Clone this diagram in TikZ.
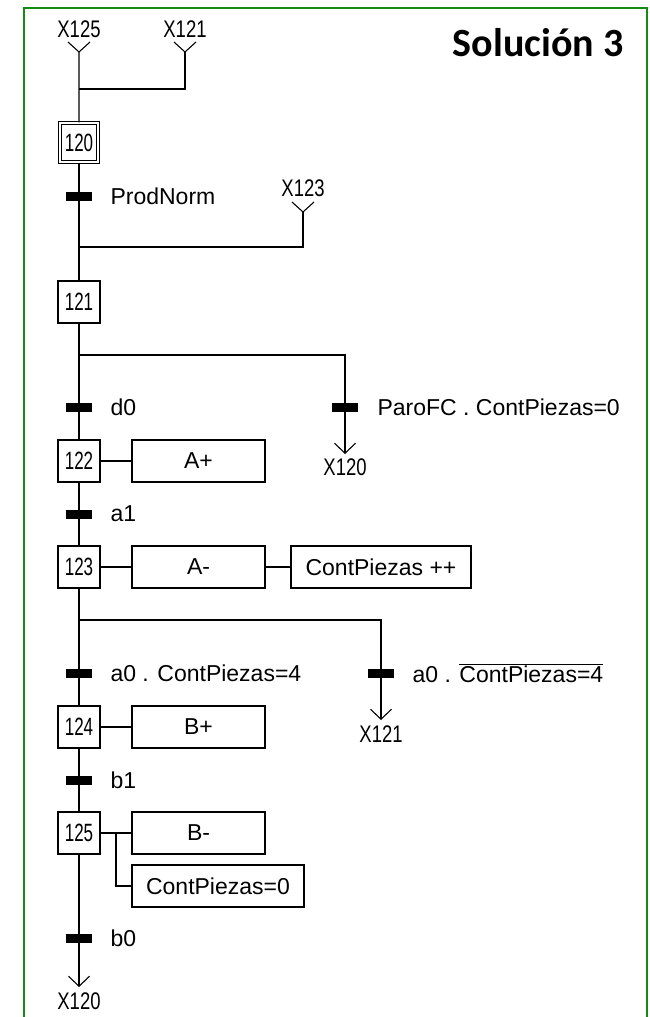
\documentclass[tikz,border=0pt]{standalone}
\usepackage{graphicx}
\usepackage{fontspec}
\setmainfont{Liberation Sans}
\newfontfamily\solfont{Carlito}
\usetikzlibrary{arrows.meta}
\definecolor{framegreen}{RGB}{20,140,20}
\newcommand{\stepnum}[1]{{\fontsize{25}{27}\selectfont\scalebox{0.68}[1]{#1}}}
\newcommand{\xref}[1]{{\fontsize{24}{26}\selectfont\scalebox{0.77}[1]{#1}}}
\begin{document}
\begin{tikzpicture}[x=1pt,y=-1pt, line width=1.1pt,
  every node/.style={font=\fontsize{23}{25}\selectfont, inner sep=0pt},
  stepbox/.style={draw, minimum width=42pt, minimum height=42pt},
  initstep/.style={draw, double, double distance=2pt, minimum width=38pt, minimum height=39pt},
  actbox/.style={draw, minimum height=42pt},
  trbar/.style={fill=black, minimum width=26pt, minimum height=9pt},
  trlbl/.style={anchor=west},
  tip/.style={-{Straight Barb[length=10pt,width=21pt]}},
]
\useasboundingbox (0,0) rectangle (649,1017);
\draw[line width=2pt, framegreen] (24,1017) -- (24,8) -- (647,8) -- (647,1017);

\node[anchor=base east, font={\solfont\bfseries\fontsize{40}{42}\selectfont}] (title) at (624,56) {Solución 3};

% inputs
\node (lx125) at (79,29) {\xref{X125}};
\node (lx121) at (185,29) {\xref{X121}};
\coordinate (y125) at (79,52);
\coordinate (y121) at (185,52);
\coordinate (j0) at (79,89);

\node[initstep] (s120) at (79,142.5) {\stepnum{120}};
\node[trbar] (t1) at (79,196) {};
\node[trlbl] (l1) at (110,196) {ProdNorm};
\node (lx123) at (303,188) {\xref{X123}};
\coordinate (y123) at (303,212);
\coordinate (j1) at (79,247);

\node[stepbox] (s121) at (79,302) {\stepnum{121}};
\coordinate (d1) at (79,355);
\node[trbar] (t2) at (79,407) {};
\node[trlbl] (l2) at (110,407) {d0};
\node[trbar] (t3) at (345,407) {};
\node[trlbl] (l3) at (377,407) {ParoFC . ContPiezas=0};
\coordinate (e1) at (345,454);
\node (lx120a) at (345,467) {\xref{X120}};

\node[stepbox] (s122) at (79,461) {\stepnum{122}};
\node[actbox, minimum width=133pt] (a122) at (198.5,461) {A+};
\node[trbar] (t4) at (79,514) {};
\node[trlbl] (l4) at (110,514) {a1};

\node[stepbox] (s123) at (79,567) {\stepnum{123}};
\node[actbox, minimum width=133pt] (a123) at (198.5,567) {A-};
\node[actbox, minimum width=180pt] (a123b) at (381,567) {ContPiezas ++};
\coordinate (d2) at (79,620);
\node[trbar] (t5) at (79,673) {};
\node[trlbl] (l5) at (110,673) {a0 . ContPiezas=4};
\node[trbar] (t6) at (381,673) {};
\node[trlbl] (l6) at (412,673) {a0 . $\overline{\hbox{ContPiezas=4}}$};
\coordinate (e2) at (381,720);
\node (lx121b) at (381,734) {\xref{X121}};

\node[stepbox] (s124) at (79,727) {\stepnum{124}};
\node[actbox, minimum width=133pt] (a124) at (198.5,727) {B+};
\node[trbar] (t7) at (79,780) {};
\node[trlbl] (l7) at (110,780) {b1};

\node[stepbox] (s125) at (79,833) {\stepnum{125}};
\node[actbox, minimum width=133pt] (a125) at (198.5,833) {B-};
\node[actbox, minimum width=172pt] (a125b) at (218,886) {ContPiezas=0};
\coordinate (k) at (116,833);
\node[trbar] (t8) at (79,938) {};
\node[trlbl] (l8) at (110,938) {b0};
\coordinate (e3) at (79,987);
\node (lx120b) at (79,1001) {\xref{X120}};

% connectors
\draw (y125) ++(-11,-10) -- (y125) -- (s120.north);
\draw (y121) ++(-11,-10) -- (y121) -- ++(11,-10);
\draw (y125) ++(11,-10) -- (y125);
\draw (y121) |- (j0);
\draw (s120) -- (s121);
\draw (y123) ++(-11,-10) -- (y123) -- ++(11,-10);
\draw (y123) |- (j1);
\draw (s121) -- (s122);
\draw[tip] (d1) -| (e1);
\draw (s122) -- (a122);
\draw (s122) -- (s123);
\draw (s123) -- (a123);
\draw (a123) -- (a123b);
\draw (s123) -- (s124);
\draw[tip] (d2) -| (e2);
\draw (s124) -- (a124);
\draw (s124) -- (s125);
\draw (s125) -- (a125);
\draw (k) |- (a125b.west);
\draw[tip] (s125) -- (e3);
\end{tikzpicture}
\end{document}
